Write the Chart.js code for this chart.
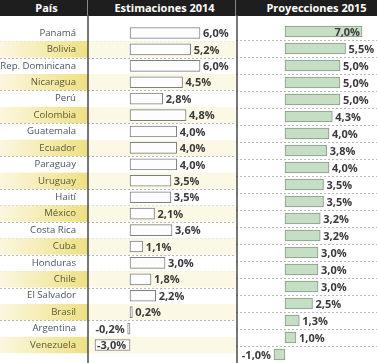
<!DOCTYPE html>
<html>
<head>
<meta charset="utf-8">
<script src="https://cdn.jsdelivr.net/npm/chart.js@4.4.1/dist/chart.umd.min.js"></script>
<style>
  body { margin: 0; background: #fff; }
  #wrap { position: relative; width: 377px; height: 363px; overflow: hidden; font-family: "Open Sans", sans-serif; }
  #head { position: absolute; left: 0; top: 0; width: 377px; height: 16px; background: #1e1e1e; display: flex; }
  #head div { color: #fff; font-weight: bold; font-size: 11px; line-height: 16px; text-align: center; box-sizing: border-box; }
  #h1 { width: 88px; padding-left: 6px; border-right: 1px solid #888; }
  #h2 { width: 148px; padding-left: 6px; border-right: 1px solid #888; }
  #h3 { width: 141px; padding-left: 20px; }
  #c2014 { position: absolute; left: 0; top: 15px; }
  #c2015 { position: absolute; left: 236px; top: 15px; }
</style>
</head>
<body>
<div id="wrap">
  <div id="head">
    <div id="h1">País</div>
    <div id="h2">Estimaciones 2014</div>
    <div id="h3">Proyecciones 2015</div>
  </div>
  <canvas id="c2014" width="236" height="348"></canvas>
  <canvas id="c2015" width="141" height="348"></canvas>
</div>
<script>
const countries = ['Panamá', 'Bolivia', 'Rep. Dominicana', 'Nicaragua', 'Perú', 'Colombia', 'Guatemala',
    'Ecuador', 'Paraguay', 'Uruguay', 'Haití', 'México', 'Costa Rica', 'Cuba', 'Honduras', 'Chile',
    'El Salvador', 'Brasil', 'Argentina', 'Venezuela'];
const est2014 = [6.0, 5.2, 6.0, 4.5, 2.8, 4.8, 4.0, 4.0, 4.0, 3.5, 3.5, 2.1, 3.6, 1.1, 3.0, 1.8, 2.2, 0.2, -0.2, -3.0];
const proy2015 = [7.0, 5.5, 5.0, 5.0, 5.0, 4.3, 4.0, 3.8, 4.0, 3.5, 3.5, 3.2, 3.2, 3.0, 3.0, 3.0, 2.5, 1.3, 1.0, -1.0];

// stripes, dotted separators and the column line
const rowBands = {
    id: 'rowBands',
    beforeDraw(chart, args, opts) {
        const { ctx, chartArea } = chart;
        const y = chart.scales.y;
        const step = chartArea.height / countries.length;
        ctx.save();
        countries.forEach((c, i) => {
            const top = y.getPixelForValue(i) - step / 2;
            if (i % 2 === 1 && opts.yellow) {
                const g = ctx.createLinearGradient(0, 0, chartArea.left, 0);
                g.addColorStop(0, '#fbf7e0');
                g.addColorStop(1, '#eee083');
                ctx.fillStyle = g;
                ctx.fillRect(0, top, chartArea.left, step);
                ctx.fillStyle = '#fbf8e6';
                ctx.fillRect(chartArea.left, top, chartArea.right - chartArea.left, step);
            }
            if (i < countries.length - 1) {
                ctx.strokeStyle = '#b8b8b8';
                ctx.lineWidth = 1;
                ctx.setLineDash([2, 2]);
                ctx.beginPath();
                ctx.moveTo(0, Math.round(top + step) + 0.5);
                ctx.lineTo(chart.width, Math.round(top + step) + 0.5);
                ctx.stroke();
            }
        });
        ctx.setLineDash([]);
        ctx.strokeStyle = '#4a4a4a';
        ctx.lineWidth = 1.5;
        ctx.beginPath();
        ctx.moveTo(opts.lineX, 0);
        ctx.lineTo(opts.lineX, chart.height);
        ctx.stroke();
        ctx.restore();
    }
};

const valueLabels = {
    id: 'valueLabels',
    afterDatasetsDraw(chart) {
        const { ctx, chartArea } = chart;
        const values = chart.data.datasets[0].data;
        ctx.save();
        ctx.font = 'bold 11px "Open Sans"';
        ctx.fillStyle = '#3a3a3a';
        ctx.textBaseline = 'middle';
        chart.getDatasetMeta(0).data.forEach((bar, i) => {
            const v = values[i];
            const txt = v.toFixed(1).replace('.', ',') + '%';
            const w = ctx.measureText(txt).width;
            if (v >= 0) {
                if (bar.x + 3 + w <= chart.width - 1) {
                    ctx.textAlign = 'left';
                    ctx.fillText(txt, bar.x + 3, bar.y + 1);
                } else {
                    ctx.textAlign = 'right';
                    ctx.fillText(txt, bar.x - 2, bar.y + 1);
                }
            } else {
                if (bar.x - 3 - w >= chartArea.left + 2) {
                    ctx.textAlign = 'right';
                    ctx.fillText(txt, bar.x - 3, bar.y + 1);
                } else {
                    ctx.textAlign = 'left';
                    ctx.fillText(txt, bar.x + 2, bar.y + 1);
                }
            }
        });
        ctx.restore();
    }
};

function barOptions(min, max, labelWidth, lineX) {
    return {
        indexAxis: 'y',
        responsive: false,
        animation: false,
        devicePixelRatio: 1,
        layout: { padding: { top: 8, left: 0, right: 0, bottom: 0 } },
        plugins: {
            legend: { display: false },
            tooltip: { enabled: false },
            rowBands: { yellow: labelWidth > 0, lineX: lineX }
        },
        scales: {
            x: { display: false, min: min, max: max },
            y: {
                afterFit: function(scale) { scale.width = labelWidth; },
                grid: { display: false },
                border: { display: false },
                ticks: {
                    display: labelWidth > 0,
                    autoSkip: false,
                    padding: 4,
                    font: { family: 'Open Sans', size: 9.6 },
                    color: function(ctx) { return ctx.index % 2 === 1 ? '#5c5a30' : '#4a5467'; }
                }
            }
        }
    };
}

new Chart(document.getElementById('c2014'), {
    type: 'bar',
    data: {
        labels: countries,
        datasets: [{
            data: est2014,
            backgroundColor: '#fdfdfd',
            borderColor: '#7e7e7e',
            borderWidth: 1,
            borderSkipped: false,
            barThickness: 11
        }]
    },
    options: barOptions(-3.6, 9.08, 88, 88),
    plugins: [rowBands, valueLabels]
});

new Chart(document.getElementById('c2015'), {
    type: 'bar',
    data: {
        labels: countries,
        datasets: [{
            data: proy2015,
            backgroundColor: '#c6dec3',
            borderColor: '#879886',
            borderWidth: 1,
            borderSkipped: false,
            barThickness: 11
        }]
    },
    options: barOptions(-4.45, 8.36, 0, 1),
    plugins: [rowBands, valueLabels]
});
</script>
</body>
</html>
